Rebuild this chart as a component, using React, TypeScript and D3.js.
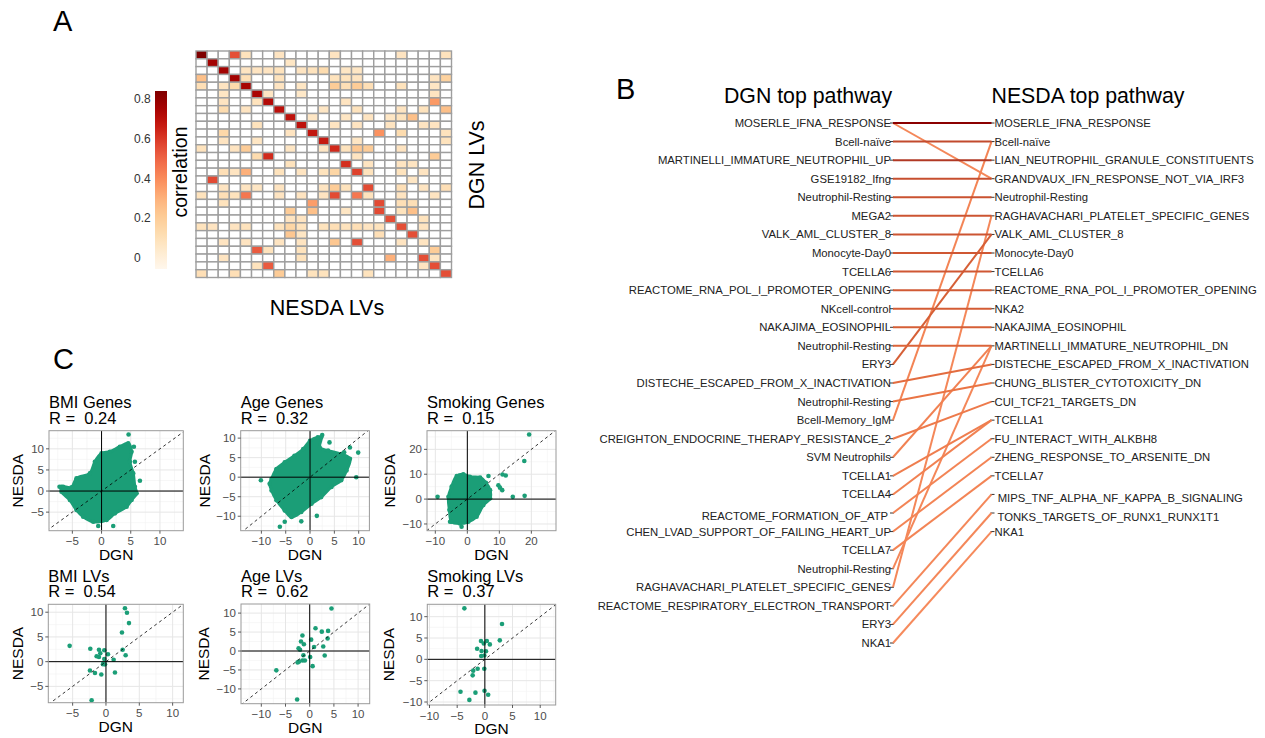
import React from 'react';
import * as d3 from 'd3';

const FONT = "'Liberation Sans', Arial, Helvetica, sans-serif";
const GREEN = '#1b9e77';

// ---------------- Panel A data ----------------
const nRows = 29;
const nCols = 23;
const heatCells: [number, number, number][] = [
  [0,0,0.84],[0,3,0.55],[0,4,0.08],[0,7,0.07],[0,12,0.07],[0,18,0.07],[0,22,0.08],
  [1,1,0.76],[1,8,0.06],
  [2,2,0.76],[2,4,0.07],[2,5,0.07],[2,6,0.07],[2,7,0.08],[2,9,0.07],[2,10,0.08],[2,11,0.12],[2,13,0.06],[2,14,0.06],
  [3,0,0.25],[3,3,0.76],[3,4,0.1],[3,7,0.08],[3,12,0.08],[3,13,0.08],[3,14,0.07],[3,21,0.07],[3,22,0.17],
  [4,0,0.1],[4,2,0.07],[4,3,0.13],[4,4,0.75],[4,7,0.07],[4,9,0.06],[4,12,0.2],[4,13,0.1],[4,14,0.2],[4,15,0.1],[4,18,0.08],[4,21,0.06],
  [5,2,0.06],[5,5,0.74],[5,6,0.06],[5,9,0.05],[5,21,0.07],
  [6,2,0.07],[6,5,0.08],[6,6,0.72],[6,13,0.07],[6,21,0.36],
  [7,2,0.12],[7,4,0.07],[7,7,0.7],[7,11,0.06],[7,14,0.08],[7,18,0.07],[7,20,0.08],[7,22,0.25],
  [8,8,0.69],[8,10,0.06],[8,13,0.06],[8,15,0.07],[8,17,0.06],[8,18,0.08],[8,19,0.25],
  [9,5,0.08],[9,9,0.69],[9,12,0.07],[9,14,0.07],[9,17,0.07],[9,20,0.07],[9,21,0.07],
  [10,2,0.14],[10,8,0.07],[10,10,0.68],[10,16,0.38],[10,18,0.12],[10,22,0.08],
  [11,2,0.07],[11,5,0.06],[11,11,0.67],[11,14,0.06],[11,22,0.08],
  [12,0,0.08],[12,3,0.07],[12,4,0.2],[12,8,0.06],[12,11,0.06],[12,12,0.63],[12,13,0.08],[12,14,0.22],[12,15,0.2],[12,18,0.07],
  [13,5,0.12],[13,6,0.63],[13,14,0.07],[13,21,0.2],
  [14,8,0.08],[14,13,0.62],[14,15,0.07],[14,18,0.07],[14,19,0.07],
  [15,2,0.1],[15,3,0.07],[15,4,0.3],[15,7,0.08],[15,9,0.07],[15,11,0.08],[15,12,0.15],[15,14,0.58],[15,15,0.08],[15,18,0.08],[15,20,0.07],
  [16,1,0.56],[16,19,0.06],
  [17,2,0.07],[17,4,0.07],[17,5,0.06],[17,7,0.07],[17,11,0.07],[17,12,0.2],[17,13,0.08],[17,15,0.56],[17,18,0.1],[17,20,0.07],[17,22,0.1],
  [18,0,0.08],[18,2,0.1],[18,3,0.08],[18,4,0.45],[18,7,0.07],[18,9,0.07],[18,11,0.07],[18,12,0.56],[18,14,0.45],[18,15,0.08],[18,18,0.07],[18,21,0.07],
  [19,2,0.08],[19,10,0.35],[19,16,0.56],[19,18,0.1],[19,19,0.1],
  [20,8,0.2],[20,10,0.25],[20,13,0.06],[20,16,0.56],[20,18,0.08],[20,19,0.25],
  [21,8,0.07],[21,9,0.07],[21,17,0.55],[21,20,0.08],
  [22,0,0.08],[22,1,0.07],[22,3,0.07],[22,4,0.08],[22,7,0.08],[22,8,0.15],[22,9,0.08],[22,11,0.08],[22,12,0.1],[22,13,0.08],[22,14,0.1],[22,15,0.07],[22,16,0.08],[22,18,0.55],[22,20,0.07],
  [23,8,0.22],[23,9,0.06],[23,16,0.1],[23,19,0.55],
  [24,2,0.07],[24,4,0.07],[24,7,0.07],[24,9,0.07],[24,12,0.22],[24,14,0.55],[24,18,0.07],[24,20,0.07],
  [25,5,0.52],[25,6,0.08],[25,9,0.08],[25,21,0.2],
  [26,2,0.07],[26,9,0.08],[26,17,0.3],[26,20,0.55],[26,21,0.07],
  [27,5,0.08],[27,6,0.52],[27,20,0.07],[27,21,0.55],
  [28,0,0.1],[28,3,0.1],[28,7,0.2],[28,10,0.08],[28,11,0.08],[28,15,0.08],[28,22,0.55],
];
const legendTicks = [0, 0.2, 0.4, 0.6, 0.8];
const legendDomain = [-0.06, 0.84];

// ---------------- Panel B data ----------------
const dgnPathways = [
  'MOSERLE_IFNA_RESPONSE','Bcell-naïve','MARTINELLI_IMMATURE_NEUTROPHIL_UP','GSE19182_Ifng',
  'Neutrophil-Resting','MEGA2','VALK_AML_CLUSTER_8','Monocyte-Day0','TCELLA6',
  'REACTOME_RNA_POL_I_PROMOTER_OPENING','NKcell-control','NAKAJIMA_EOSINOPHIL','Neutrophil-Resting',
  'ERY3','DISTECHE_ESCAPED_FROM_X_INACTIVATION','Neutrophil-Resting','Bcell-Memory_IgM',
  'CREIGHTON_ENDOCRINE_THERAPY_RESISTANCE_2','SVM Neutrophils','TCELLA1','TCELLA4',
  'REACTOME_FORMATION_OF_ATP ','CHEN_LVAD_SUPPORT_OF_FAILING_HEART_UP','TCELLA7','Neutrophil-Resting',
  'RAGHAVACHARI_PLATELET_SPECIFIC_GENES','REACTOME_RESPIRATORY_ELECTRON_TRANSPORT','ERY3','NKA1',
];
const nesdaPathways = [
  'MOSERLE_IFNA_RESPONSE','Bcell-naïve','LIAN_NEUTROPHIL_GRANULE_CONSTITUENTS',
  'GRANDVAUX_IFN_RESPONSE_NOT_VIA_IRF3','Neutrophil-Resting','RAGHAVACHARI_PLATELET_SPECIFIC_GENES',
  'VALK_AML_CLUSTER_8','Monocyte-Day0','TCELLA6','REACTOME_RNA_POL_I_PROMOTER_OPENING','NKA2',
  'NAKAJIMA_EOSINOPHIL','MARTINELLI_IMMATURE_NEUTROPHIL_DN','DISTECHE_ESCAPED_FROM_X_INACTIVATION',
  'CHUNG_BLISTER_CYTOTOXICITY_DN','CUI_TCF21_TARGETS_DN','TCELLA1','FU_INTERACT_WITH_ALKBH8',
  'ZHENG_RESPONSE_TO_ARSENITE_DN','TCELLA7',' MIPS_TNF_ALPHA_NF_KAPPA_B_SIGNALING',
  ' TONKS_TARGETS_OF_RUNX1_RUNX1T1','NKA1',
];
// [dgn index, nesda index, correlation]
const pathwayLinks: [number, number, number][] = [
  [0,3,0.46],[16,1,0.47],[25,5,0.46],[24,12,0.46],[18,12,0.48],
  [28,22,0.45],[27,21,0.46],[26,20,0.46],[23,19,0.47],[22,18,0.47],[21,17,0.47],[20,16,0.48],[19,16,0.49],
  [17,15,0.5],[15,14,0.52],[14,13,0.55],[13,6,0.6],
  [12,12,0.58],[11,11,0.6],[10,10,0.61],[9,9,0.62],[8,8,0.63],[7,7,0.63],[6,6,0.64],[5,5,0.64],
  [4,4,0.65],[3,3,0.66],[2,2,0.72],[1,1,0.68],[0,0,0.83],
];
const linkColorStops = [0.45, 0.52, 0.6, 0.68, 0.74, 0.83];
const linkColors = ['#f68a5c', '#ea7444', '#d65f36', '#c24a2d', '#a83020', '#8b0000'];

// ---------------- Panel C data ----------------
const bmiGenesHull: [number, number][] = [
  [-6.85,1.03],[-5.14,0.87],[-4.29,3.0],[-2.0,4.18],[-1.14,6.95],[0,8.92],[1.43,9.31],[3.14,10.5],
  [4.57,11.29],[5.14,9.31],[4.86,6.95],[5.43,4.18],[5.71,1.03],[6.0,-0.55],[5.14,-2.13],[4.29,-3.71],
  [2.29,-5.29],[0.86,-6.87],[-1.43,-7.26],[-3.14,-6.08],[-4.29,-4.5],[-5.43,-2.13],[-6.86,-0.16],
];
const bmiGenesOutliers: [number, number][] = [
  [4.63,13.4],[6.57,2.45],[2.0,-8.29],[-0.57,-8.29],[5.71,6.95],[5.54,10.5],[-6.57,1.03],[-7.2,1.0],
];
const ageGenesHull: [number, number][] = [
  [-7.9,-0.4],[-6.9,2.1],[-5.2,3.8],[-3.2,5.5],[-1.4,7.2],[0,9.3],[1.6,10.2],[2.3,10.2],[2,7.6],
  [3.7,6.8],[6.4,5.9],[8.2,4.7],[7.5,1.7],[6.4,-0.8],[4.4,-2.5],[2.3,-5.1],[0.3,-6.8],[-1.8,-8.9],
  [-3.8,-10.2],[-5.2,-8.5],[-6.9,-5.9],[-7.9,-3.4],[-8.3,-1.7],
];
const ageGenesOutliers: [number, number][] = [
  [2.5,10.8],[4,8.9],[9.9,6.3],[9.5,0],[8.2,7.6],[-6.2,-12.7],[-1.8,-11.3],[1.4,-9.9],[-6.9,1.9],
  [-10.1,-0.8],[-5.2,-11.4],[7.0,6.4],
];
const smokingGenesHull: [number, number][] = [
  [-5.9,0.9],[-4.9,5],[-3.3,9.3],[-1.25,10],[0.8,9],[4,8.7],[5.8,6.6],[7.1,3.6],[7.1,0.3],[5,-2.4],
  [2.9,-7.1],[0.3,-9.1],[-2.3,-9.8],[-4.9,-9.1],[-5.6,-4.4],
];
const smokingGenesOutliers: [number, number][] = [
  [19.3,26],[17.8,15.3],[11,9.9],[12,9.5],[9.7,5.6],[10.2,4.6],[10.9,3.6],[14.2,0.9],[17.9,1.3],
  [-9.3,0.9],[6.6,9.3],[-1.8,-11.1],[-5.4,-9.1],
];
const bmiLVs: [number, number][] = [
  [2.85,10.8],[3.15,9.9],[3.45,7.8],[2.4,5.9],[-5.45,3.2],[-2.35,2.6],[-1.05,2.4],[-0.25,2.3],
  [-0.85,1.7],[-1.4,1.1],[-1.05,0.95],[0.3,1.5],[2.5,2.4],[2.95,1.3],[1.15,0.4],[-0.25,0.55],
  [-0.45,-0.5],[-0.15,-0.54],[-2.4,-1.8],[-1.65,-2.3],[-0.7,-2.6],[1.35,-2.2],[-2.15,-7.8],
];
const ageLVs: [number, number][] = [
  [4.5,11.2],[1.2,6.0],[2.5,5.1],[3.8,5.3],[3.7,3.3],[-1.5,4.1],[0.3,3.0],[-1.8,2.5],[-1.2,1.8],
  [-2.3,0.7],[-2.0,0.35],[0.9,1.05],[2.8,1.2],[3.1,-1.2],[-1.3,-1.1],[0.1,-1.6],[-1.5,-2.5],
  [-1.0,-2.5],[-2.2,-2.8],[-2.5,-3.0],[0.6,-4.0],[-6.9,-5.1],[-2.6,-12.8],
];
const smokingLVs: [number, number][] = [
  [-3.7,11.95],[3.1,8.3],[-0.7,4.3],[0.36,4.3],[-0.2,3.7],[0.9,3.5],[2.7,4.45],[-1.4,2.5],[-0.6,1.95],
  [0.2,1.9],[-0.66,0.8],[-0.1,0.9],[-1.3,-2.2],[-0.1,-2.2],[-2.1,-2.65],[-2.2,-3.75],[-0.06,-7.35],
  [0.6,-8.3],[-4.4,-7.6],[-1.7,-7.8],[-2.8,-9.5],
];
const scatterTitles = ['BMI Genes', 'Age Genes', 'Smoking Genes', 'BMI LVs', 'Age LVs', 'Smoking LVs'];
const scatterR = ['0.24', '0.32', '0.15', '0.54', '0.62', '0.37'];
const ticks5a = [-5, 0, 5, 10];
const ticks5b = [-10, -5, 0, 5, 10];
const ticks10 = [-10, 0, 10, 20];

// ---------------- helpers ----------------
const heatColor = (v: number) =>
  d3.interpolateOrRd(Math.max(0, Math.min(1, (v - legendDomain[0]) / (legendDomain[1] - legendDomain[0]))));
const linkColor = d3.scaleLinear<string>().domain(linkColorStops).range(linkColors).clamp(true);

function PanelA() {
  const hx = d3.scaleBand<number>().domain(d3.range(nCols)).range([196, 451.5]);
  const hy = d3.scaleBand<number>().domain(d3.range(nRows)).range([51, 277.5]);
  const lookup = new Map<string, number>();
  heatCells.forEach(([r, c, v]) => lookup.set(r + '_' + c, v));
  const legY = d3.scaleLinear().domain(legendDomain).range([269, 91]);
  const stops = d3.range(0, 1.0001, 0.05);
  return (
    <g>
      <text x={53} y={31} fontSize={29} fill="#000">A</text>
      <defs>
        <linearGradient id="legGrad" x1="0" y1="1" x2="0" y2="0">
          {stops.map((t) => (
            <stop key={t} offset={t} stopColor={d3.interpolateOrRd(t)} />
          ))}
        </linearGradient>
      </defs>
      <rect x={155} y={91} width={12} height={178} fill="url(#legGrad)" />
      {legendTicks.map((t) => (
        <text key={t} x={134} y={legY(t) + 4.5} fontSize={12} fill="#333">{t === 0 ? '0' : t.toFixed(1)}</text>
      ))}
      <text transform="translate(187,172) rotate(-90)" textAnchor="middle" fontSize={19.5} fill="#000">correlation</text>
      {d3.range(nRows).map((r) =>
        d3.range(nCols).map((c) => {
          const v = lookup.get(r + '_' + c);
          return (
            <rect key={r + '_' + c} x={hx(c)} y={hy(r)} width={hx.bandwidth()} height={hy.bandwidth()}
              fill={v === undefined ? '#ffffff' : heatColor(v)} stroke="#9e9e9e" strokeWidth={1.4} />
          );
        })
      )}
      <text x={327} y={315} textAnchor="middle" fontSize={21.5} fill="#000">NESDA LVs</text>
      <text transform="translate(484,165) rotate(-90)" textAnchor="middle" fontSize={21.5} fill="#000">DGN LVs</text>
    </g>
  );
}

function PanelB() {
  const yL = d3.scaleLinear().domain([0, 28]).range([123, 643]);
  const xL = 893;
  const xR = 991.5;
  return (
    <g>
      <text x={616} y={99} fontSize={29} fill="#000">B</text>
      <text x={808} y={103} textAnchor="middle" fontSize={21.3} fill="#000">DGN top pathway</text>
      <text x={1088} y={103} textAnchor="middle" fontSize={21.3} fill="#000">NESDA top pathway</text>
      {dgnPathways.map((p, i) => (
        <g key={'l' + i}>
          <line x1={xL - 3} x2={xL + 1} y1={yL(i)} y2={yL(i)} stroke="#333" strokeWidth={1} />
          <text x={xL - 2} y={yL(i) + (p.endsWith(' ') ? 3 : 0)} dy="0.35em" textAnchor="end" fontSize={11.3} fill="#222"
            style={{ whiteSpace: 'pre' }}>{p}</text>
        </g>
      ))}
      {nesdaPathways.map((p, i) => (
        <g key={'r' + i}>
          <line x1={xR - 1} x2={xR + 3} y1={yL(i)} y2={yL(i)} stroke="#333" strokeWidth={1} />
          <text x={xR + 3} y={yL(i) + (p.startsWith(' ') ? 4 : 0)} dy="0.35em" textAnchor="start" fontSize={11.3} fill="#222"
            style={{ whiteSpace: 'pre' }}>{p}</text>
        </g>
      ))}
      {pathwayLinks.map(([a, b, v], i) => (
        <line key={'k' + i} x1={xL} y1={yL(a)} x2={xR} y2={yL(b)} stroke={linkColor(v)} strokeWidth={2} />
      ))}
    </g>
  );
}

type Pt = [number, number];
interface ScatterProps {
  id: string;
  x0: number; y0: number; w: number; h: number;
  domX: [number, number]; domY: [number, number];
  ticks: number[]; step: number;
  title: string; r: string;
  points: Pt[]; hull?: Pt[];
  nesdaX: number;
}

function Scatter(p: ScatterProps) {
  const sx = d3.scaleLinear().domain(p.domX).range([p.x0, p.x0 + p.w]);
  const sy = d3.scaleLinear().domain(p.domY).range([p.y0 + p.h, p.y0]);
  const half = p.step / 2;
  const minorX = d3.range(Math.ceil(p.domX[0] / half) * half, p.domX[1], half).filter((v) => Math.abs(v / p.step - Math.round(v / p.step)) > 1e-6);
  const minorY = d3.range(Math.ceil(p.domY[0] / half) * half, p.domY[1], half).filter((v) => Math.abs(v / p.step - Math.round(v / p.step)) > 1e-6);
  const lo = Math.min(p.domX[0], p.domY[0]);
  const hi = Math.max(p.domX[1], p.domY[1]);
  const hullLine = d3.line<Pt>().x((d) => sx(d[0])).y((d) => sy(d[1])).curve(d3.curveCatmullRomClosed.alpha(0.5));
  const yb = p.y0 + p.h;
  return (
    <g>
      <defs>
        <clipPath id={p.id}>
          <rect x={p.x0} y={p.y0} width={p.w} height={p.h} />
        </clipPath>
      </defs>
      <text x={p.x0} y={p.y0 - 22.5} fontSize={16.5} fill="#000">{p.title}</text>
      <text x={p.x0} y={p.y0 - 7} fontSize={16.5} fill="#000" style={{ whiteSpace: 'pre' }}>{'R =  ' + p.r}</text>
      <rect x={p.x0} y={p.y0} width={p.w} height={p.h} fill="#fff" />
      <g clipPath={`url(#${p.id})`}>
        {minorX.map((v) => (
          <line key={'mx' + v} x1={sx(v)} x2={sx(v)} y1={p.y0} y2={yb} stroke="#f2f2f2" strokeWidth={0.6} />
        ))}
        {minorY.map((v) => (
          <line key={'my' + v} y1={sy(v)} y2={sy(v)} x1={p.x0} x2={p.x0 + p.w} stroke="#f2f2f2" strokeWidth={0.6} />
        ))}
        {p.ticks.map((v) => (
          <line key={'gx' + v} x1={sx(v)} x2={sx(v)} y1={p.y0} y2={yb} stroke="#e6e6e6" strokeWidth={1} />
        ))}
        {p.ticks.map((v) => (
          <line key={'gy' + v} y1={sy(v)} y2={sy(v)} x1={p.x0} x2={p.x0 + p.w} stroke="#e6e6e6" strokeWidth={1} />
        ))}
        {p.hull && (
          <g>
            <path d={hullLine(p.hull) || ''} fill={GREEN} stroke={GREEN} strokeWidth={3} strokeLinejoin="round" />
            {p.hull.map((d, i) => (
              <circle key={'h' + i} cx={sx(d[0])} cy={sy(d[1])} r={2.3} fill={GREEN} />
            ))}
          </g>
        )}
        {p.points.map((d, i) => (
          <circle key={'p' + i} cx={sx(d[0])} cy={sy(d[1])} r={2.3} fill={GREEN} />
        ))}
        <line x1={sx(0)} x2={sx(0)} y1={p.y0} y2={yb} stroke="#000" strokeWidth={1} />
        <line y1={sy(0)} y2={sy(0)} x1={p.x0} x2={p.x0 + p.w} stroke="#000" strokeWidth={1} />
        <line x1={sx(lo)} y1={sy(lo)} x2={sx(hi)} y2={sy(hi)} stroke="#000" strokeWidth={0.8} strokeDasharray="3,3" />
      </g>
      <rect x={p.x0} y={p.y0} width={p.w} height={p.h} fill="none" stroke="#9a9a9a" strokeWidth={1} />
      {p.ticks.filter((v) => v >= p.domX[0] && v <= p.domX[1]).map((v) => (
        <g key={'tx' + v}>
          <line x1={sx(v)} x2={sx(v)} y1={yb} y2={yb + 3} stroke="#333" strokeWidth={0.8} />
          <text x={sx(v)} y={yb + 14.5} textAnchor="middle" fontSize={11.5} fill="#4d4d4d">{v < 0 ? '\u2212' + Math.abs(v) : String(v)}</text>
        </g>
      ))}
      {p.ticks.filter((v) => v >= p.domY[0] && v <= p.domY[1]).map((v) => (
        <g key={'ty' + v}>
          <line x1={p.x0 - 3} x2={p.x0} y1={sy(v)} y2={sy(v)} stroke="#333" strokeWidth={0.8} />
          <text x={p.x0 - 5} y={sy(v) + 4} textAnchor="end" fontSize={11.5} fill="#4d4d4d">{v < 0 ? '\u2212' + Math.abs(v) : String(v)}</text>
        </g>
      ))}
      <text x={p.x0 + p.w / 2} y={yb + 29} textAnchor="middle" fontSize={15.5} fill="#000">DGN</text>
      <text transform={`translate(${p.nesdaX},${p.y0 + p.h / 2}) rotate(-90)`} textAnchor="middle" fontSize={15.5} fill="#000">NESDA</text>
    </g>
  );
}

function PanelC() {
  return (
    <g>
      <text x={53} y={369} fontSize={29} fill="#000">C</text>
      <Scatter id="c1" x0={49} y0={430.7} w={134.3} h={100} domX={[-9.0, 14.0]} domY={[-9.4, 14.3]}
        ticks={ticks5a} step={5} title={scatterTitles[0]} r={scatterR[0]} points={bmiGenesOutliers} hull={bmiGenesHull} nesdaX={23} />
      <Scatter id="c2" x0={240.7} y0={430.7} w={128.7} h={100} domX={[-14.25, 12.2]} domY={[-13.7, 11.9]}
        ticks={ticks5b} step={5} title={scatterTitles[1]} r={scatterR[1]} points={ageGenesOutliers} hull={ageGenesHull} nesdaX={210} />
      <Scatter id="c3" x0={427} y0={430.7} w={129} h={100} domX={[-12.6, 27.7]} domY={[-12.7, 27.5]}
        ticks={ticks10} step={10} title={scatterTitles[2]} r={scatterR[2]} points={smokingGenesOutliers} hull={smokingGenesHull} nesdaX={395} />
      <Scatter id="c4" x0={48.3} y0={604.3} w={135} h={98.4} domX={[-8.65, 11.6]} domY={[-8.3, 11.6]}
        ticks={ticks5a} step={5} title={scatterTitles[3]} r={scatterR[3]} points={bmiLVs} nesdaX={22.5} />
      <Scatter id="c5" x0={241} y0={604} w={128.7} h={99.7} domX={[-14.2, 12.4]} domY={[-13.9, 12.4]}
        ticks={ticks5b} step={5} title={scatterTitles[4]} r={scatterR[4]} points={ageLVs} nesdaX={209} />
      <Scatter id="c6" x0={427.3} y0={604.3} w={128.4} h={100.7} domX={[-10.4, 12.8]} domY={[-10.7, 12.9]}
        ticks={ticks5b} step={5} title={scatterTitles[5]} r={scatterR[5]} points={smokingLVs} nesdaX={394} />
    </g>
  );
}

export default function App() {
  return (
    <svg width={1265} height={738} style={{ position: 'absolute', left: 0, top: 0, background: '#fff' }} fontFamily={FONT}>
      <rect width={1265} height={738} fill="#fff" />
      <PanelA />
      <PanelB />
      <PanelC />
    </svg>
  );
}
